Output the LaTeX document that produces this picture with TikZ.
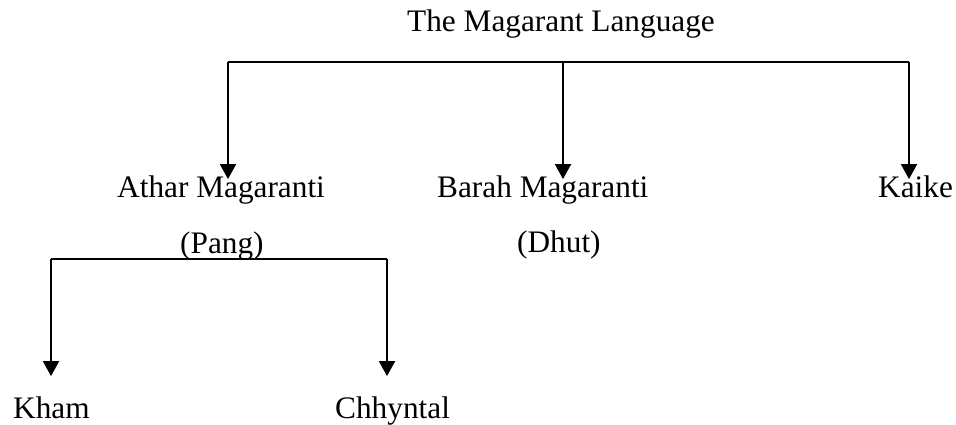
\documentclass[tikz,border=0pt]{standalone}
\usepackage{fontspec}
\setmainfont{Liberation Serif}
\usetikzlibrary{arrows.meta}
\begin{document}
\begin{tikzpicture}[x=1pt,y=1pt,
  lbl/.style={anchor=base west,inner sep=0pt,font=\fontsize{31.3}{36}\selectfont},
  conn/.style={line width=1.9pt},
  arr/.style={conn,-{Triangle[width=16pt,length=15pt]},shorten >=-4pt}]
\useasboundingbox (0,0) rectangle (956,-425);
\node[lbl] (title) at (407,-32) {The Magarant Language};
\node[lbl] (athar) at (117,-197) {Athar Magaranti};
\node[lbl] (pang) at (180,-253) {(Pang)};
\node[lbl] (barah) at (437,-197) {Barah Magaranti};
\node[lbl] (dhut) at (517,-252) {(Dhut)};
\node[lbl] (kaike) at (878,-197) {Kaike};
\node[lbl] (kham) at (13,-418) {Kham};
\node[lbl] (chhyntal) at (335,-418) {Chhyntal};
% top bar
\coordinate (t1) at (228,-62);
\coordinate (t2) at (563,-62);
\coordinate (t3) at (909,-62);
\draw[conn] (t1) -- (t3);
\draw[arr] (t1) -- (t1 |- athar.north);
\draw[arr] (t2) -- (t2 |- barah.north);
\draw[arr] (t3) -- (t3 |- kaike.north);
% lower bar
\coordinate (l1) at (51,-259);
\coordinate (l2) at (387,-259);
\draw[conn] (l1) -- (l2);
\draw[arr,shorten >=0pt] (l1) -- ([yshift=20pt]l1 |- kham.north);
\draw[arr,shorten >=0pt] (l2) -- ([yshift=20pt]l2 |- chhyntal.north);
\end{tikzpicture}
\end{document}
